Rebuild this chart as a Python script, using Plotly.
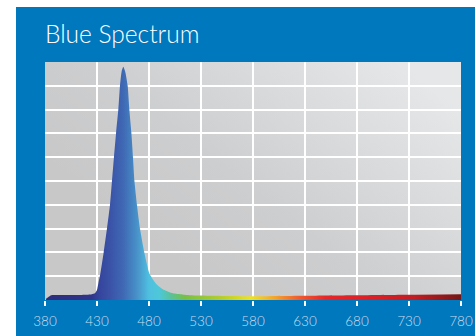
import plotly.graph_objects as go

# ---- data ----
wavelengths = [381, 383, 386, 395, 410, 420, 425, 428, 430, 431.5, 433, 436.4,
               439.6, 442.5, 444.4, 446.3, 448.3, 450.5, 452.1, 453.7, 455.3,
               457.1, 459.5, 461.1, 463.1, 464.6, 466.0, 468.4, 471.3, 475.5,
               480.5, 487, 494, 503, 512, 520, 540, 580, 630, 680, 730, 780]
intensity = [0.05, 0.12, 0.2, 0.21, 0.21, 0.22, 0.24, 0.28, 0.42, 0.75, 1.05, 2.0,
             3.0, 4.0, 5.0, 6.0, 7.0, 8.0, 9.0, 9.6, 9.8,
             9.6, 9.0, 8.0, 7.0, 6.0, 5.0, 4.0, 3.0, 2.0,
             1.1, 0.67, 0.43, 0.28, 0.23, 0.2, 0.18, 0.16, 0.18, 0.2, 0.22, 0.24]
tick_values = [380, 430, 480, 530, 580, 630, 680, 730, 780]
tick_labels = ["380", "430", "480", "530", "580", "630", "680", "730", "780"]
title_text = "Blue Spectrum"

# spectral colours by wavelength
spec_wl = [380, 425, 432, 442, 455, 468, 480, 490, 500, 515, 550, 578, 600, 625, 650, 700, 735, 780]
spec_col = ["#2c2c7c", "#30358a", "#35449c", "#3a52a6", "#3f68b4", "#4890c8",
            "#4fc0e0", "#4ec8d8", "#58c2a0", "#78c043", "#b5cd2e", "#efe21f",
            "#f2a72e", "#ee5a2e", "#e5262a", "#d81f26", "#c11d23", "#741616"]

W0, W1 = 380, 780
colorscale = [[(w - W0) / (W1 - W0), c] for w, c in zip(spec_wl, spec_col)]

BLUE = "#0078be"

bg_svg = (
    "data:image/svg+xml;utf8,"
    "<svg xmlns='http://www.w3.org/2000/svg' width='416' height='238' preserveAspectRatio='none'>"
    "<defs><linearGradient id='g' x1='0.25' y1='0.75' x2='1' y2='0.2'>"
    "<stop offset='0' stop-color='%23c8c8c9'/>"
    "<stop offset='0.35' stop-color='%23cdcecf'/>"
    "<stop offset='1' stop-color='%23e6e7e8'/>"
    "</linearGradient></defs>"
    "<rect width='416' height='238' fill='url(%23g)'/></svg>"
)

fig = go.Figure()
fig.add_trace(go.Scatter(
    x=wavelengths, y=intensity, mode="lines",
    line=dict(width=0, shape="spline", smoothing=0.5),
    fill="tozeroy",
    fillgradient=dict(type="horizontal", colorscale=colorscale, start=W0, stop=W1),
    hoverinfo="skip", showlegend=False,
))

fig.update_layout(
    width=475, height=336,
    margin=dict(l=45, r=14, t=62, b=36, autoexpand=False),
    paper_bgcolor="white",
    plot_bgcolor="rgba(0,0,0,0)",
    title=dict(text=title_text, x=45 / 475, xanchor="left", xref="container",
               y=1 - 34.5 / 336, yanchor="middle", yref="container",
               font=dict(family="Lato", size=24.5, color="white", weight=300)),
    xaxis=dict(range=[W0, W1], tickvals=tick_values, ticktext=tick_labels,
               showgrid=True, gridcolor="white", gridwidth=2,
               ticks="outside", ticklen=5, tickwidth=1.5, tickcolor="white",
               ticklabelstandoff=4, automargin=False,
               tickfont=dict(family="Lato", size=13.5, color="#c8deef", weight=300),
               zeroline=False, showline=False, fixedrange=True),
    yaxis=dict(range=[0, 10], dtick=1, tick0=0, showgrid=True, gridcolor="white",
               gridwidth=2, showticklabels=False, ticks="", zeroline=False,
               showline=False, fixedrange=True, automargin=False),
    shapes=[dict(type="rect", xref="paper", yref="paper",
                 x0=(16 - 45) / 416, x1=(480 - 45) / 416,
                 y0=-40 / 238, y1=(300 - 7) / 238,
                 fillcolor=BLUE, line=dict(width=0), layer="below")],
    images=[dict(source=bg_svg, xref="x", yref="y", x=W0, y=10,
                 sizex=W1 - W0, sizey=10, sizing="stretch", layer="below",
                 xanchor="left", yanchor="top")],
)

fig.write_html(
    "out.html",
    config={"displayModeBar": False},
    post_script="document.body.style.margin='0';document.body.style.padding='0';",
)
